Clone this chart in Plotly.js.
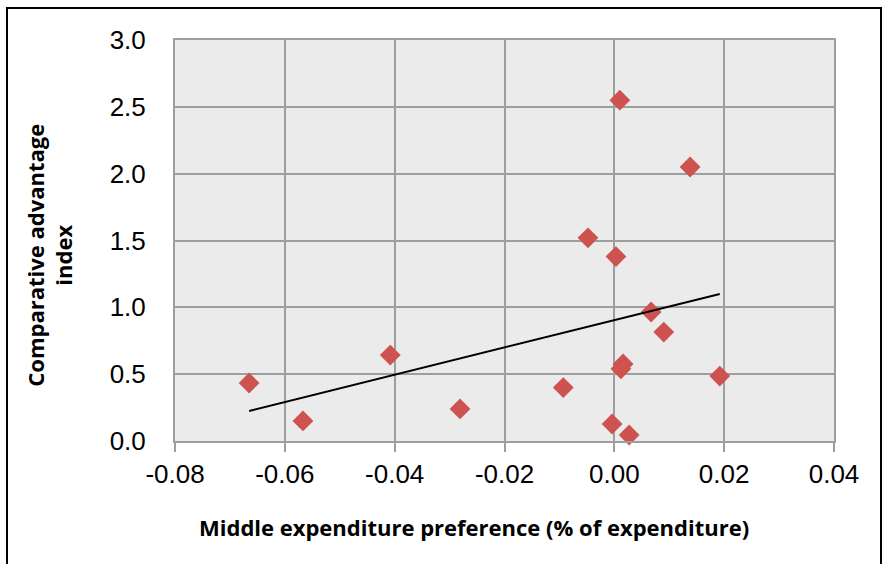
<!DOCTYPE html>
<html>
<head>
<meta charset="utf-8">
<script src="https://cdn.plot.ly/plotly-3.0.1.min.js"></script>
<style>
  html, body { margin: 0; padding: 0; background: #ffffff; }
  #wrap { position: relative; width: 883px; height: 564px; }
  #chart { position: absolute; left: 0; top: 0; width: 883px; height: 564px; }
  #frame { position: absolute; left: 6px; top: 7px; width: 872px; height: 600px;
           border: 2px solid #000; pointer-events: none; }
</style>
</head>
<body>
<div id="wrap">
  <div id="chart"></div>
  <div id="frame"></div>
</div>
<script>
// Middle expenditure preference (% of expenditure)
const prefX = [-0.0665, -0.0567, -0.0408, -0.0281, -0.0093, -0.0048, -0.0004, 0.0003,
               0.0010, 0.0012, 0.0016, 0.0027, 0.0067, 0.0090, 0.0138, 0.0192];
// Comparative advantage index
const caiY  = [0.434, 0.150, 0.643, 0.240, 0.400, 1.520, 0.127, 1.380,
               2.550, 0.540, 0.576, 0.045, 0.965, 0.815, 2.050, 0.486];
const xTicks = [-0.08, -0.06, -0.04, -0.02, 0.00, 0.02, 0.04];
const xTickText = ['-0.08', '-0.06', '-0.04', '-0.02', '0.00', '0.02', '0.04'];
const yTicks = [0.0, 0.5, 1.0, 1.5, 2.0, 2.5, 3.0];
const yTickText = ['0.0', '0.5', '1.0', '1.5', '2.0', '2.5', '3.0'];
const xTitle = 'Middle expenditure preference (% of expenditure)';
const yTitle = 'Comparative advantage<br>index';

// Linear least-squares trend line over the data range
const n = prefX.length;
const mx = prefX.reduce((a, b) => a + b, 0) / n;
const my = caiY.reduce((a, b) => a + b, 0) / n;
let sxy = 0, sxx = 0;
for (let i = 0; i < n; i++) { sxy += (prefX[i] - mx) * (caiY[i] - my); sxx += (prefX[i] - mx) ** 2; }
const slope = sxy / sxx, icpt = my - slope * mx;
const xMin = Math.min(...prefX), xMax = Math.max(...prefX);
const trendX = [xMin, xMax];
const trendY = trendX.map(v => icpt + slope * v);

const tickFont = { family: '"Liberation Sans", Arial, sans-serif', size: 26, color: '#000' };
const titleFont = { family: '"Open Sans", Calibri, sans-serif', size: 22, color: '#000', weight: 'bold' };

const data = [
  { x: prefX, y: caiY, type: 'scatter', mode: 'markers', cliponaxis: false,
    marker: { symbol: 'diamond', size: 16, color: '#cd5250', line: { width: 0 } }, hoverinfo: 'x+y' },
  { x: trendX, y: trendY, type: 'scatter', mode: 'lines',
    line: { color: '#000000', width: 2 }, hoverinfo: 'skip' }
];

const layout = {
  width: 883, height: 564,
  margin: { l: 175, r: 49, t: 40, b: 123 },
  paper_bgcolor: '#ffffff', plot_bgcolor: '#ebebeb',
  showlegend: false,
  xaxis: {
    range: [-0.08, 0.04], tickvals: xTicks, ticktext: xTickText,
    showgrid: true, gridcolor: '#9e9e9e', gridwidth: 2,
    zeroline: false, showline: true, linecolor: '#9e9e9e', linewidth: 2, mirror: true,
    ticks: 'outside', ticklen: 9, tickwidth: 2, tickcolor: '#9e9e9e',
    tickfont: tickFont, automargin: false
  },
  yaxis: {
    range: [0, 3], tickvals: yTicks, ticktext: yTickText,
    showgrid: true, gridcolor: '#9e9e9e', gridwidth: 2,
    zeroline: false, showline: true, linecolor: '#9e9e9e', linewidth: 2, mirror: true,
    ticks: '', ticklen: 0, ticklabelstandoff: 22, tickfont: tickFont, automargin: false
  },
  annotations: [
    { text: xTitle, xref: 'paper', yref: 'paper', x: 0.4537, y: -0.2145,
      xanchor: 'center', yanchor: 'middle', showarrow: false, font: titleFont },
    { text: yTitle, xref: 'paper', yref: 'paper', x: -0.19, y: 0.464, textangle: -90,
      xanchor: 'center', yanchor: 'middle', showarrow: false, font: titleFont }
  ]
};

Plotly.newPlot('chart', data, layout, { staticPlot: true, displayModeBar: false });
</script>
</body>
</html>
